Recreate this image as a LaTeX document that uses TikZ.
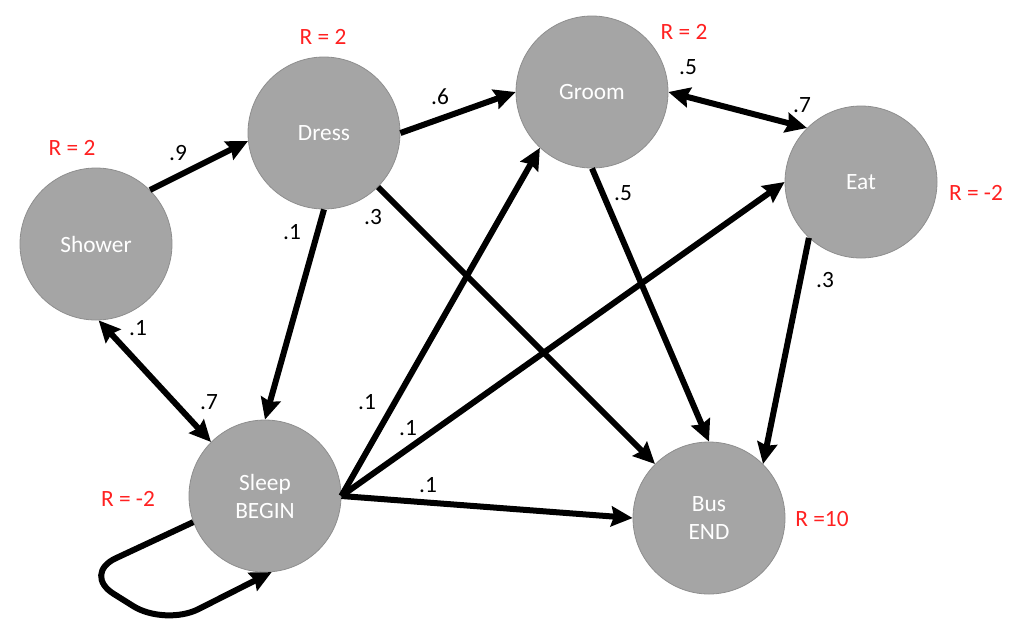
\documentclass[tikz,border=0pt]{standalone}
\usepackage{fontspec}
\setmainfont{Carlito}
\usetikzlibrary{arrows.meta}
\definecolor{stategray}{HTML}{A5A5A5}
\definecolor{stateedge}{HTML}{8E8E8E}
\definecolor{rwdred}{HTML}{FF2121}
\newcommand\labfont{\fontsize{17.5}{21}\selectfont}
\begin{document}
\begin{tikzpicture}[x=0.75pt,y=-0.75pt,
  state/.style={circle,fill=stategray,draw=stateedge,line width=0.6pt,minimum size=114pt,inner sep=0pt,text=white,align=center,font=\labfont},
  arr/.style={line width=4.5pt,-{Stealth[length=16pt,width=15pt,inset=2pt]}},
  darr/.style={line width=4.5pt,{Stealth[length=16pt,width=15pt,inset=2pt]}-{Stealth[length=16pt,width=15pt,inset=2pt]}},
  prob/.style={font=\labfont,text=black,inner sep=0pt},
  rwd/.style={font=\labfont,text=rwdred,inner sep=0pt}]
\useasboundingbox (0,0) rectangle (1016,633);

% states
\node[state] (Shower) at (96,244) {Shower};
\node[state] (Dress) at (324,133) {Dress};
\node[state] (Groom) at (592,92) {Groom};
\node[state] (Eat) at (861,182) {Eat};
\node[state] (Sleep) at (265,496) {Sleep\\BEGIN};
\node[state] (Bus) at (709,518) {Bus\\END};

% rewards
\node[rwd] (rShower) at (72,148) {R = 2};
\node[rwd] (rDress) at (323,37) {R = 2};
\node[rwd] (rGroom) at (684,32) {R = 2};
\node[rwd] (rEat) at (976,193) {R = -2};
\node[rwd] (rSleep) at (128,499) {R = -2};
\node[rwd] (rBus) at (822,519) {R =10};

% transitions
\draw[arr] (Shower.45) -- (Dress.186);
\draw[darr] (Shower.-88) -- (Sleep.135);
\draw[arr] (Dress.east) -- (Groom.west);
\draw[arr] (Dress.south) -- (Sleep.north);
\draw[arr] (Dress.-45) -- (Bus.135);
\draw[darr] (Groom.east) -- (Eat.135);
\draw[arr] (Groom.south) -- (Bus.north);
\draw[arr] (Eat.-133) -- (Bus.45);
\draw[arr] (Sleep.east) -- (Groom.-133);
\draw[arr] (Sleep.east) -- (Eat.west);
\draw[arr] (Sleep.east) -- (Bus.west);
\coordinate (loopA) at (82,574);
\coordinate (loopB) at (165,626);
\draw[arr,rounded corners=28pt] (Sleep.200) -- (loopA) -- (loopB) -- (Sleep.-85);

% probabilities
\node[prob] (p1) at (178,153) {.9};
\node[prob] (p2) at (138,328) {.1};
\node[prob] (p3) at (209,402) {.7};
\node[prob] (p4) at (440,97) {.6};
\node[prob] (p5) at (292,232) {.1};
\node[prob] (p6) at (373,217) {.3};
\node[prob] (p7) at (688,67) {.5};
\node[prob] (p8) at (802,105) {.7};
\node[prob] (p9) at (623,193) {.5};
\node[prob] (p10) at (825,280) {.3};
\node[prob] (p11) at (367,402) {.1};
\node[prob] (p12) at (408,428) {.1};
\node[prob] (p13) at (428,485) {.1};
\end{tikzpicture}
\end{document}
